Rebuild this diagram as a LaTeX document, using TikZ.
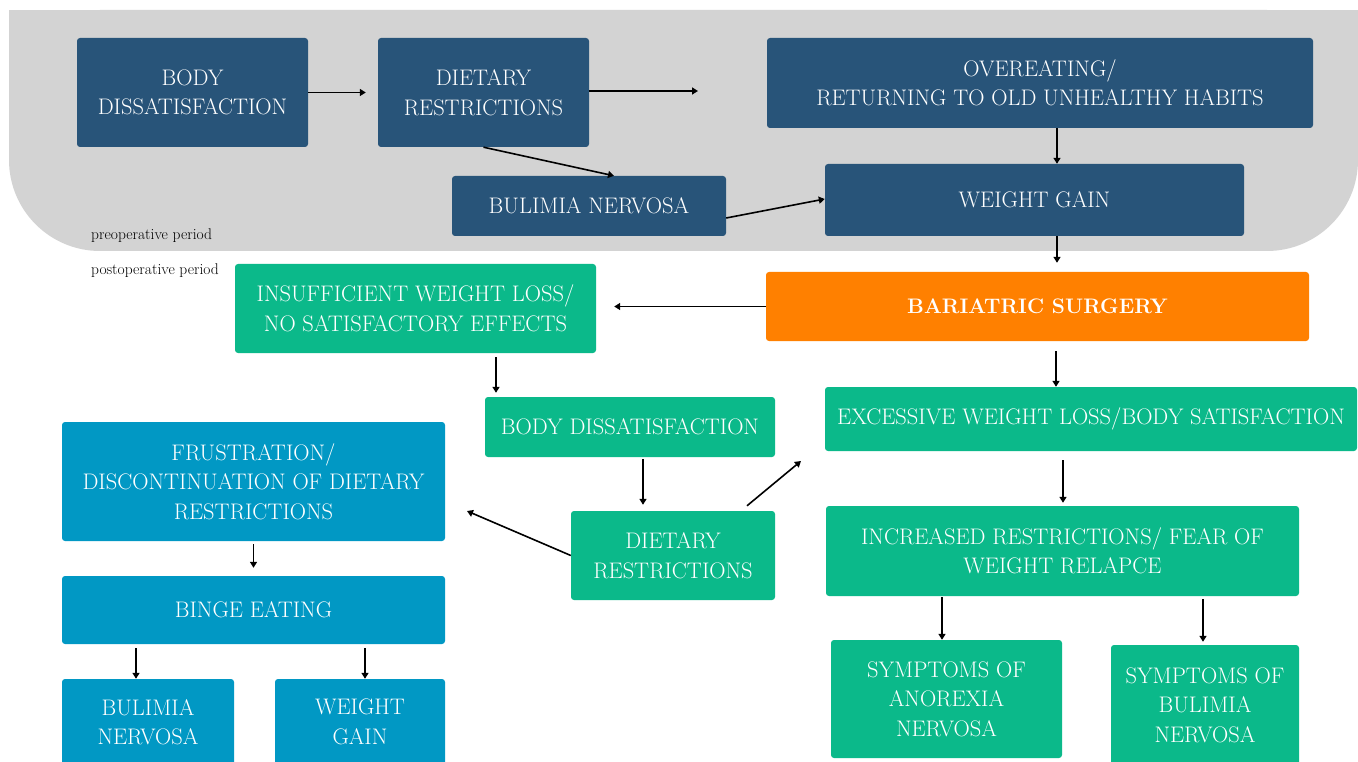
\documentclass[tikz,border=0pt]{standalone}
\usetikzlibrary{arrows.meta,calc}
\definecolor{navy}{HTML}{285479}
\definecolor{teal}{HTML}{0BB98A}
\definecolor{cyanbox}{HTML}{0198C4}
\definecolor{surgery}{HTML}{FF8000}
\definecolor{period}{HTML}{D3D3D3}
\tikzset{
  box/.style={rounded corners=3pt, inner sep=0pt, text=white, align=center,
    font=\fontsize{22.5}{29.5}\selectfont},
  pre/.style={box, fill=navy},
  post/.style={box, fill=teal},
  late/.style={box, fill=cyanbox},
  arr/.style={line width=1.6pt, -{Triangle[length=6pt,width=7pt]}},
  periodlabel/.style={anchor=base west, inner sep=0pt, font=\fontsize{15.5}{17}\selectfont}
}
\begin{document}
\begin{tikzpicture}[x=1pt,y=-1pt]
\useasboundingbox (0,0) rectangle (1358,762);
\clip (0,0) rectangle (1358,762);

% preoperative period panel: square top, rounded bottom corners
\fill[period, rounded corners=91pt] (9,10) rectangle (1358,251);
\fill[period] (9,10) rectangle (1358,120);
\node[periodlabel] (prelab) at (91,240) {preoperative period};
\node[periodlabel] (postlab) at (91,275) {postoperative period};

% preoperative boxes
\node[pre, minimum width=231pt, minimum height=109pt] (bd) at (192.5,92.5) {BODY\\DISSATISFACTION};
\node[pre, minimum width=211pt, minimum height=109pt] (dr) at (483.5,92.5) {DIETARY\\RESTRICTIONS};
\node[pre, minimum width=546pt, minimum height=90pt] (oe) at (1040,83) {OVEREATING/\\RETURNING TO OLD UNHEALTHY HABITS};
\node[pre, minimum width=274pt, minimum height=60pt] (bn) at (589,206) {BULIMIA NERVOSA};
\node[pre, minimum width=419pt, minimum height=72pt] (wg) at (1034.5,200) {WEIGHT GAIN};

% surgery
\node[box, fill=surgery, minimum width=543pt, minimum height=69pt, font=\fontsize{21}{29.5}\selectfont\bfseries] (bs) at (1037.5,306.5) {BARIATRIC SURGERY};

% postoperative boxes
\node[post, minimum width=361pt, minimum height=89pt] (ins) at (415.5,308.5) {INSUFFICIENT WEIGHT LOSS/\\NO SATISFACTORY EFFECTS};
\node[post, minimum width=290pt, minimum height=60pt] (bd2) at (630,427) {BODY DISSATISFACTION};
\node[post, minimum width=204pt, minimum height=89pt] (dr2) at (673,555.5) {DIETARY\\RESTRICTIONS};
\node[post, minimum width=532pt, minimum height=64pt] (ex) at (1091,419) {EXCESSIVE WEIGHT LOSS/BODY SATISFACTION};
\node[post, minimum width=473pt, minimum height=90pt] (inc) at (1062.5,551) {INCREASED RESTRICTIONS/ FEAR OF\\WEIGHT RELAPCE};
\node[post, minimum width=231pt, minimum height=118pt] (an) at (946.5,699) {SYMPTOMS OF\\ANOREXIA\\NERVOSA};
\node[post, minimum width=188pt, minimum height=120pt] (bu2) at (1205,705) {SYMPTOMS OF\\BULIMIA\\NERVOSA};

\node[late, minimum width=383pt, minimum height=119pt] (fr) at (253.5,481.5) {FRUSTRATION/\\DISCONTINUATION OF DIETARY\\RESTRICTIONS};
\node[late, minimum width=383pt, minimum height=68pt] (be) at (253.5,610) {BINGE EATING};
\node[late, minimum width=172pt, minimum height=86pt] (bn3) at (148,722) {BULIMIA\\NERVOSA};
\node[late, minimum width=170pt, minimum height=86pt] (wg3) at (360,722) {WEIGHT\\GAIN};

% free ends of connectors
\coordinate (drout) at (698,91);
\coordinate (exin) at (801,461);
\coordinate (frin) at (467,511);

% connectors
\draw[arr] (bd.east) -- ([xshift=-12pt]dr.west);
\draw[arr] ([yshift=1.5pt]dr.east) -- (drout);
\draw[arr] (dr.south) -- ([xshift=25pt]bn.north);
\draw[arr] ([yshift=-12pt]bn.east) -- ([yshift=1pt]wg.west);
\draw[arr] ([xshift=17pt]oe.south) -- ([xshift=22.5pt]wg.north);
\draw[arr] ([xshift=22.5pt]wg.south) -- ([xshift=19.5pt,yshift=9pt]bs.north);
\draw[arr] (bs.west) -- ([xshift=18pt,yshift=2pt]ins.east);
\draw[arr] ([xshift=18.5pt,yshift=-10pt]bs.south) -- ([xshift=-35pt]ex.north);
\draw[arr] ([xshift=80.5pt,yshift=-4pt]ins.south) -- ([xshift=-134pt,yshift=4pt]bd2.north);
\draw[arr] ([xshift=13pt,yshift=-2pt]bd2.south) -- ([xshift=-30pt,yshift=6pt]dr2.north);
\draw[arr] ([xshift=74pt,yshift=5pt]dr2.north) -- (exin);
\draw[arr] (dr2.west) -- (frin);
\draw[arr] ([xshift=-28pt,yshift=-9pt]ex.south) -- ([xshift=0.5pt,yshift=3pt]inc.north);
\draw[arr] ([xshift=-120.5pt,yshift=-1pt]inc.south) -- ([xshift=-4.5pt]an.north);
\draw[arr] ([xshift=140.5pt,yshift=-3pt]inc.south) -- ([xshift=-2pt,yshift=3pt]bu2.north);
\draw[arr] ([yshift=-3pt]fr.south) -- ([yshift=8pt]be.north);
\draw[arr] ([xshift=-117.5pt,yshift=-4pt]be.south) -- ([xshift=-12pt]bn3.north);
\draw[arr] ([xshift=111.5pt,yshift=-4pt]be.south) -- ([xshift=5pt]wg3.north);
\end{tikzpicture}
\end{document}
